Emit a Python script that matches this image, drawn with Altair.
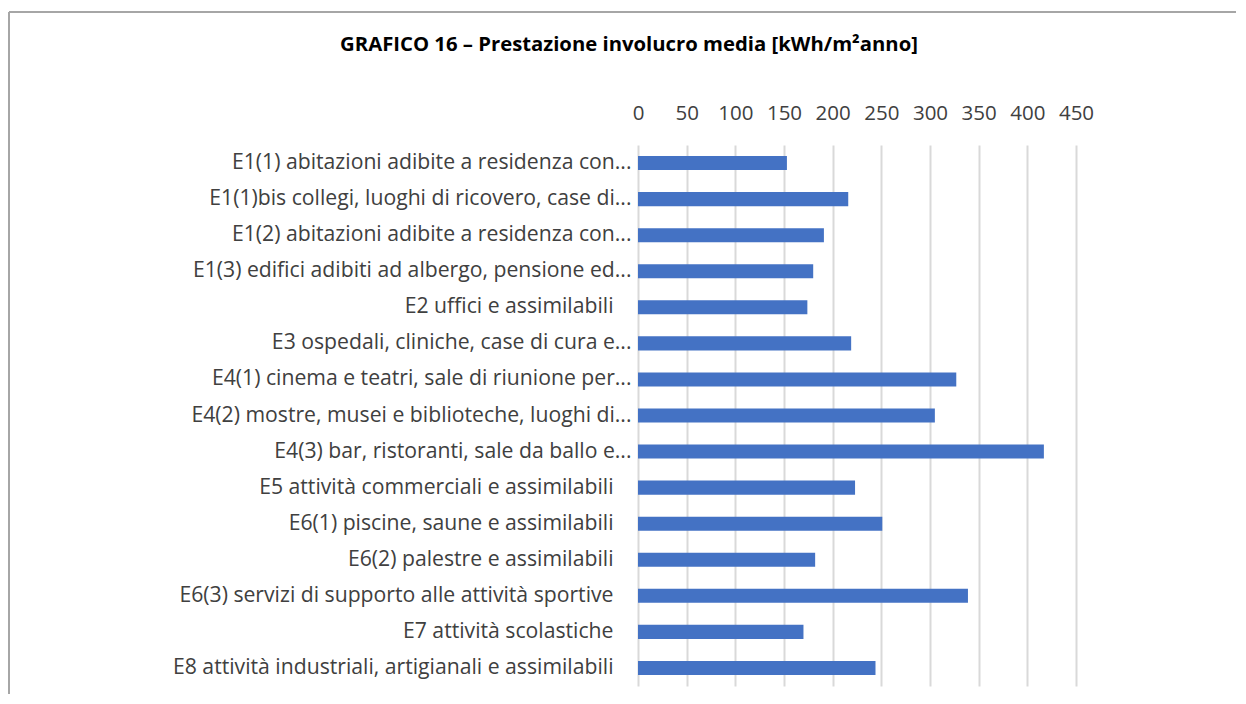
import altair as alt
import pandas as pd

categories = [
    "E1(1) abitazioni adibite a residenza con...",
    "E1(1)bis collegi, luoghi di ricovero, case di...",
    "E1(2) abitazioni adibite a residenza con...",
    "E1(3) edifici adibiti ad albergo, pensione ed...",
    "E2 uffici e assimilabili",
    "E3 ospedali, cliniche, case di cura e...",
    "E4(1) cinema e teatri, sale di riunione per...",
    "E4(2) mostre, musei e biblioteche, luoghi di...",
    "E4(3) bar, ristoranti, sale da ballo e...",
    "E5 attività commerciali e assimilabili",
    "E6(1) piscine, saune e assimilabili",
    "E6(2) palestre e assimilabili",
    "E6(3) servizi di supporto alle attività sportive",
    "E7 attività scolastiche",
    "E8 attività industriali, artigianali e assimilabili",
]
values = [153, 216, 191, 180, 174, 219, 327, 305, 417, 223, 251, 182, 339, 170, 244]
x_ticks = [0, 50, 100, 150, 200, 250, 300, 350, 400, 450]
title_text = "GRAFICO 16 – Prestazione involucro media [kWh/m²anno]"

df = pd.DataFrame({"categoria": categories, "valore": values})

FONT = "Open Sans"
TEXT_COLOR = "#404040"

bars = alt.Chart(df).mark_bar(color="#4472C4").encode(
    x=alt.X(
        "valore:Q",
        scale=alt.Scale(domain=[0, 450], nice=False, zero=True),
        axis=alt.Axis(
            orient="top",
            values=x_ticks,
            title=None,
            domain=False,
            ticks=False,
            grid=True,
            gridColor="#D9D9D9",
            gridWidth=2,
            labelFont=FONT,
            labelFontSize=20.5,
            labelColor=TEXT_COLOR,
            labelPadding=22,
            labelFlush=False,
        ),
    ),
    y=alt.Y(
        "categoria:N",
        sort=categories,
        scale=alt.Scale(paddingInner=0.61, paddingOuter=0.305),
        axis=alt.Axis(
            title=None,
            domain=False,
            ticks=False,
            grid=False,
            labelFont=FONT,
            labelFontSize=21.2,
            labelColor=TEXT_COLOR,
            labelPadding={
                "condition": {"test": "indexof(datum.label, '...') < 0", "value": 25},
                "value": 7,
            },
            labelLimit=0,
        ),
    ),
)

frame_data = alt.Data(values=[{"k": 0}])
top_border = alt.Chart(frame_data).mark_rule(color="#A6A6A6", strokeWidth=2).encode(
    x=alt.value(-629), x2=alt.value(620), y=alt.value(-133)
)
left_border = alt.Chart(frame_data).mark_rule(color="#A6A6A6", strokeWidth=2).encode(
    x=alt.value(-629), y=alt.value(-133), y2=alt.value(600)
)

chart = alt.layer(bars, top_border, left_border).properties(
    width=438,
    height=541,
    title=alt.TitleParams(
        text=title_text,
        font=FONT,
        fontSize=20.3,
        fontWeight="bold",
        color="#000000",
        anchor="middle",
        frame="group",
        baseline="alphabetic",
        dx=-228,
        offset=-60,
    ),
    autosize=alt.AutoSizeParams(type="none"),
    padding={"left": 630, "top": 137, "right": 160, "bottom": 8},
).configure_view(stroke=None)

chart.save("out.html", embed_options={"renderer": "svg", "actions": False})
